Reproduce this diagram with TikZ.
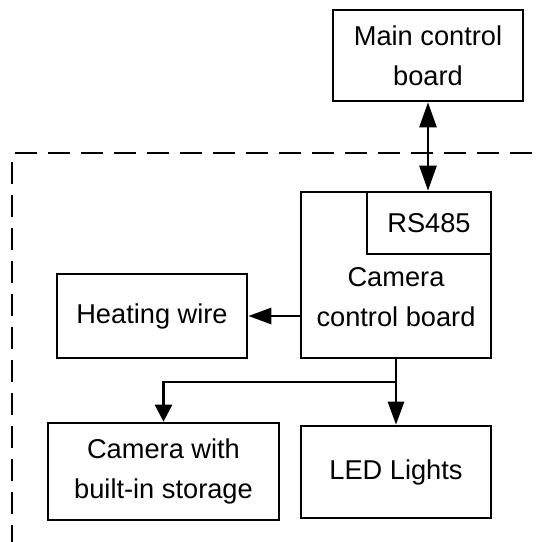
\documentclass[tikz,border=0pt]{standalone}
\usepackage{fontspec}
\setmainfont{Liberation Sans}
\usetikzlibrary{arrows.meta}
\tikzset{
  box/.style={draw,line width=1.5pt,inner sep=0pt,align=center},
  link/.style={line width=1.5pt,-{Triangle[length=0.46cm,width=0.32cm]}},
  wall/.style={line width=1.7pt,dash pattern=on 0.44cm off 0.22cm}
}
\begin{document}
\begin{tikzpicture}[x=0.02cm,y=-0.02cm,font=\fontsize{15.5}{22.8}\selectfont]
\useasboundingbox (0,0) rectangle (536,542);
\clip (0,0) rectangle (536,542);
% enclosure
\draw[wall] (15,153) -- (570,153);
\draw[wall] (12,162) -- (12,570);
\draw[wall] (15,543.4) -- (570,543.4);
% boards
\node[box,minimum width=3.8cm,minimum height=1.82cm] (main) at (428,55.5) {Main control\\board};
\node[box,minimum width=3.8cm,minimum height=3.32cm] (cam) at (396,275) {};
\node[box,minimum width=2.48cm,minimum height=1.24cm] (rs) at (429,223) {RS485};
\node[align=center] (camtxt) at (396,297) {Camera\\control board};
\node[box,minimum width=3.8cm,minimum height=1.68cm] (heat) at (152,316) {Heating wire};
\node[box,minimum width=4.62cm,minimum height=1.94cm] (store) at (163.5,471.5) {Camera with\\built-in storage};
\node[box,minimum width=3.8cm,minimum height=1.84cm] (led) at (396,472) {LED Lights};
\coordinate (split) at (396,382);
% links
\draw[link,{Triangle[length=0.5cm,width=0.34cm]}-{Triangle[length=0.5cm,width=0.34cm]}] (main.south) -- (main.south |- rs.north);
\draw[link] (cam.west |- heat) -- (heat.east);
\draw[link] (cam.south) -- (led.north);
\draw[link,-{Triangle[length=0.34cm,width=0.34cm]}] (split) -| (store.north);
\end{tikzpicture}
\end{document}
